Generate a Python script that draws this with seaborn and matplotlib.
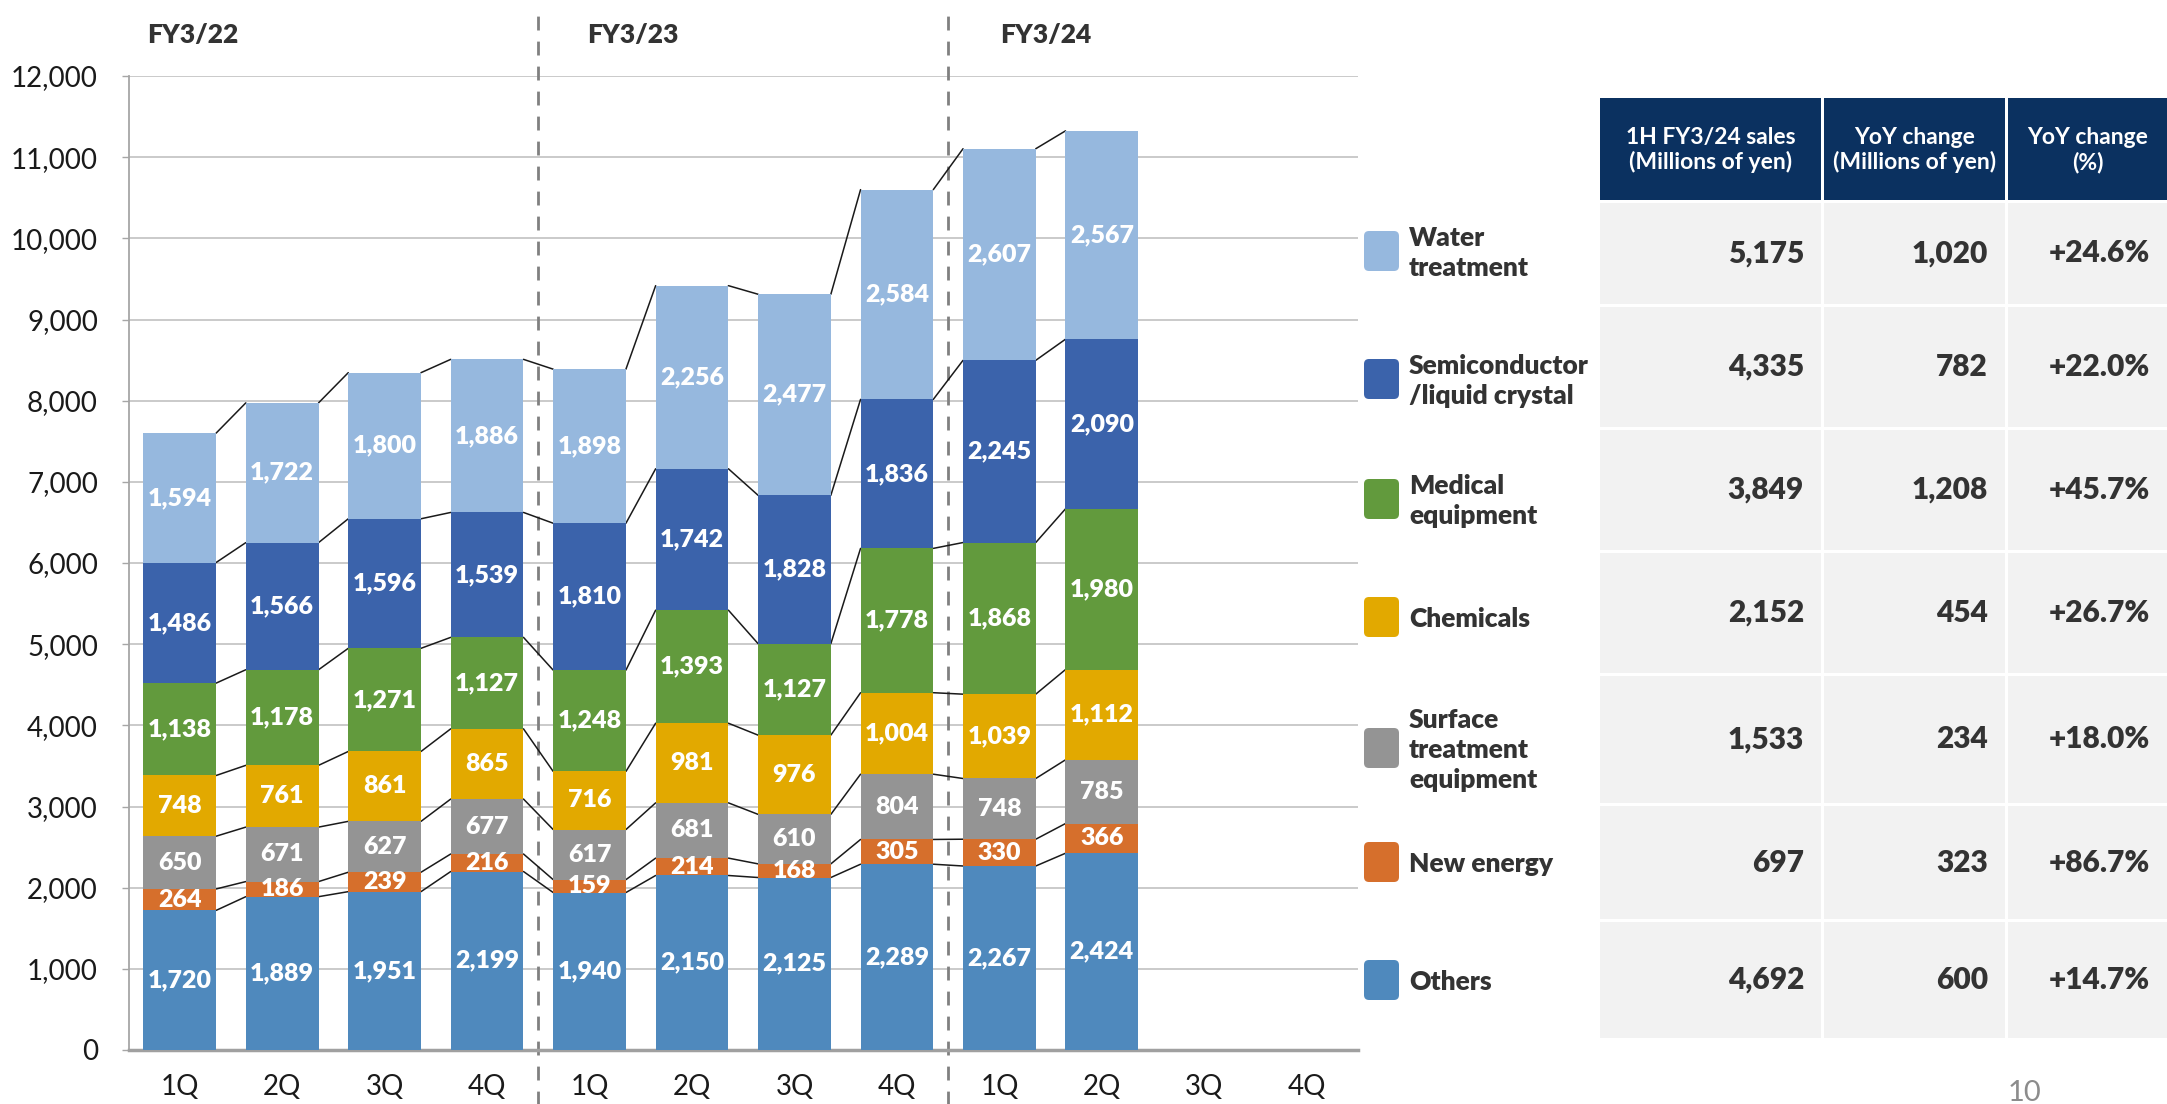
import matplotlib
matplotlib.use("Agg")
import matplotlib.pyplot as plt
from matplotlib.patches import Rectangle, FancyBboxPatch
import seaborn as sns
import numpy as np
import pandas as pd

# ---------------- data ----------------
quarters = ["1Q", "2Q", "3Q", "4Q"] * 3
fiscal_years = ["FY3/22", "FY3/23", "FY3/24"]
cat_keys = [f"{fy}-{q}" for fy in fiscal_years for q in ["1Q", "2Q", "3Q", "4Q"]]

segments = ["Others", "New energy", "Surface treatment equipment", "Chemicals",
            "Medical equipment", "Semiconductor/liquid crystal", "Water treatment"]
others = [1720, 1889, 1951, 2199, 1940, 2150, 2125, 2289, 2267, 2424]
new_energy = [264, 186, 239, 216, 159, 214, 168, 305, 330, 366]
surface = [650, 671, 627, 677, 617, 681, 610, 804, 748, 785]
chemicals = [748, 761, 861, 865, 716, 981, 976, 1004, 1039, 1112]
medical = [1138, 1178, 1271, 1127, 1248, 1393, 1127, 1778, 1868, 1980]
semicon = [1486, 1566, 1596, 1539, 1810, 1742, 1828, 1836, 2245, 2090]
water = [1594, 1722, 1800, 1886, 1898, 2256, 2477, 2584, 2607, 2567]
series = [others, new_energy, surface, chemicals, medical, semicon, water]
colors = ["#4f89bd", "#d66f2c", "#949494", "#e2a900", "#629a3d", "#3b63ab", "#96b8de"]

legend_labels = ["Water\ntreatment", "Semiconductor\n/liquid crystal", "Medical\nequipment",
                 "Chemicals", "Surface\ntreatment\nequipment", "New energy", "Others"]
legend_colors = ["#96b8de", "#3b63ab", "#629a3d", "#e2a900", "#949494", "#d66f2c", "#4f89bd"]

table_header = ["1H FY3/24 sales\n(Millions of yen)", "YoY change\n(Millions of yen)", "YoY change\n(%)"]
table_sales = ["5,175", "4,335", "3,849", "2,152", "1,533", "697", "4,692"]
table_yoy = ["1,020", "782", "1,208", "454", "234", "323", "600"]
table_pct = ["+24.6%", "+22.0%", "+45.7%", "+26.7%", "+18.0%", "+86.7%", "+14.7%"]

# ---------------- style ----------------
sns.set_theme(style="white")
plt.rcParams["font.family"] = ["Lato", "DejaVu Sans"]
TXT = "#333333"

W, H = 2167, 1104
fig = plt.figure(figsize=(W / 100, H / 100), dpi=100)
ax = fig.add_axes([128.5 / W, (H - 1050) / H, (1358 - 128.5) / W, (1050 - 76) / H])

n = len(others)
bar_w = 0.71
cum = np.zeros(n)
tops = []
for vals, col in zip(series, colors):
    vals = np.array(vals)
    df = pd.DataFrame({"cat": cat_keys[:n], "val": vals})
    sns.barplot(data=df, x="cat", y="val", order=cat_keys, bottom=cum, color=col,
                saturation=1, width=bar_w, errorbar=None, ax=ax, linewidth=0,
                edgecolor="none", zorder=3)
    for i, v in enumerate(vals):
        ax.text(i, cum[i] + v / 2, f"{v:,}", ha="center", va="center",
                color="white", fontsize=18, fontweight="heavy", zorder=5)
    cum = cum + vals
    tops.append(cum.copy())

# connector lines between segment boundaries
for t in tops:
    for i in range(n - 1):
        ax.plot([i + bar_w / 2, i + 1 - bar_w / 2], [t[i], t[i + 1]],
                color="#1a1a1a", lw=1.1, zorder=2)

ax.set_xlim(-0.5, 11.5)
ax.set_ylim(0, 12000)
ax.set_yticks(np.arange(0, 12001, 1000))
ax.set_yticklabels([f"{v:,}" for v in range(0, 12001, 1000)], fontsize=20, color="#1a1a1a")
ax.set_xticks(range(12))
ax.set_xticklabels(quarters, fontsize=20, color="#1a1a1a")
ax.tick_params(axis="x", length=0, pad=17)
ax.tick_params(axis="y", length=5, color="#a6a6a6", width=1, pad=17, left=True)
ax.set_xlabel("")
ax.set_ylabel("")
ax.yaxis.grid(True, color="#c6c6c6", lw=1.3, zorder=0)
ax.set_axisbelow(True)
for s in ["top", "right"]:
    ax.spines[s].set_visible(False)
ax.spines["left"].set_color("#a6a6a6")
ax.spines["left"].set_linewidth(1.3)
ax.spines["bottom"].set_color("#a0a0a0")
ax.spines["bottom"].set_linewidth(2.5)

# fiscal year dividers and headers
for xv in [3.5, 7.5]:
    ax.axvline(xv, ymin=-0.06, ymax=1.072, color="#808080", lw=2, ls=(0, (5, 4)),
               clip_on=False, zorder=1)
for fy, xp in zip(fiscal_years, [0.13, 4.42, 8.45]):
    ax.text(xp, 1.042, fy, transform=ax.get_xaxis_transform(), ha="center", va="center",
            fontsize=19, fontweight="heavy", color=TXT)

# ---------------- overlay (legend + table) ----------------
ov = fig.add_axes([0, 0, 1, 1])
ov.set_xlim(0, W)
ov.set_ylim(H, 0)
ov.axis("off")
ov.patch.set_alpha(0)

row_bounds = [98, 203, 307, 430, 553, 676, 806, 922, 1041]
cols = [(1600, 1821), (1824, 2005), (2008, 2167)]
gap = 3

# header
for (x0, x1), txt in zip(cols, table_header):
    ov.add_patch(Rectangle((x0, row_bounds[0]), x1 - x0, row_bounds[1] - row_bounds[0] - gap,
                           facecolor="#0b3160", edgecolor="none"))
    ov.text((x0 + x1) / 2, (row_bounds[0] + row_bounds[1] - gap) / 2 + 1, txt, ha="center",
            va="center", color="white", fontsize=16.5, fontweight="bold", linespacing=1.2)

for r in range(7):
    y0, y1 = row_bounds[r + 1], row_bounds[r + 2] - gap
    yc = (y0 + y1) / 2
    for (x0, x1), txt in zip(cols, [table_sales[r], table_yoy[r], table_pct[r]]):
        ov.add_patch(Rectangle((x0, y0), x1 - x0, y1 - y0, facecolor="#f2f2f2", edgecolor="none"))
        ov.text(x1 - 17, yc, txt, ha="right", va="center", color=TXT,
                fontsize=21.5, fontweight="heavy")

# legend
leg_centers = [251, 379, 499, 617, 748, 862, 980]
for lab, col, yc in zip(legend_labels, legend_colors, leg_centers):
    ov.add_patch(FancyBboxPatch((1364, yc - 20), 35, 40, boxstyle="round,pad=0,rounding_size=5",
                                facecolor=col, edgecolor="none"))
    ov.text(1409, yc + 2, lab, ha="left", va="center", color=TXT, fontsize=19,
            fontweight="heavy", linespacing=1.3)

# page number
ov.text(2025, 1080, "10", ha="center", va="top", color="#8c8c8c", fontsize=21)

fig.savefig("out.png", dpi=100)
